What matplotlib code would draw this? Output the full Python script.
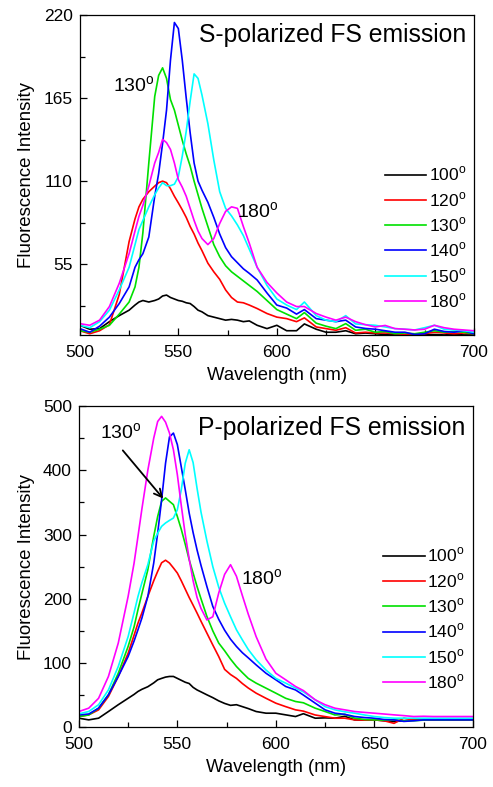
import numpy as np
import matplotlib
matplotlib.use('Agg')
import matplotlib.pyplot as plt
from matplotlib.ticker import MultipleLocator

plt.rcParams['font.family'] = ['Liberation Sans', 'DejaVu Sans']
plt.rcParams['mathtext.fontset'] = 'custom'
plt.rcParams['mathtext.rm'] = 'Liberation Sans'

# shared wavelength grid (nm)
wavelength = [500, 505, 510, 515, 520, 525, 528, 530, 532, 535,
              538, 540, 542, 544, 546, 548, 550, 552, 554, 556,
              558, 560, 562, 565, 568, 571, 574, 577, 580, 583,
              586, 590, 595, 600, 605, 610, 614, 620, 625, 630,
              635, 640, 645, 650, 655, 660, 665, 670, 675, 680,
              685, 690, 695, 700]

angles = ['100', '120', '130', '140', '150', '180']

# S-polarized emission
s_100 = [14.6, 12, 12.4, 17, 21, 24.6, 28, 30, 31, 30,
         31, 32, 34, 34.6, 33, 32, 31, 30.5, 29.5, 29,
         27, 24.6, 23.5, 21, 20, 19, 18, 18.5, 18, 17,
         17.5, 14.6, 12.4, 14.6, 11, 11, 15.5, 12, 10, 10,
         11, 9, 9.5, 9, 8.5, 8.5, 8.2, 8.5, 8.2, 8.5,
         8.2, 8.5, 8.2, 8.2]
s_120 = [11, 9, 11, 15, 35, 70, 85, 93, 98, 103,
         106.7, 109, 110, 109, 105, 100, 95.6, 91, 86, 80,
         75, 69, 64, 55.7, 50, 45, 38, 33, 30, 29.5,
         28, 25.7, 22.4, 20, 19, 17, 19.5, 13.5, 12.4, 11.3,
         13, 9.5, 10, 9.5, 9.5, 9, 8.5, 8.3, 9, 10,
         9.5, 9, 9.5, 9]
s_130 = [11, 10, 12, 14.6, 22, 30, 40, 53, 76, 122,
         166, 180, 185, 178, 164, 157, 147, 137, 128, 120,
         110, 101, 92, 80, 68, 60, 54, 50, 47, 44,
         41, 37, 31, 25, 22, 19, 23, 16, 14, 12.4,
         15.7, 11.3, 12, 10, 10.5, 9, 9.5, 9, 10, 11,
         10, 10.5, 10, 9]
s_140 = [12.4, 10, 14, 20, 29, 40, 53, 58, 62, 73,
         100, 115, 135, 157, 190, 215, 211, 190, 165, 142,
         122, 110, 104, 96, 86, 75, 66, 60, 56, 52,
         49, 44.6, 36, 28, 26, 22, 25, 19, 18, 17,
         18, 13.5, 12.5, 12, 11, 10, 10, 8.5, 9, 12,
         10.5, 10, 11, 9]
s_150 = [14.6, 13, 17, 24.6, 38, 53, 68, 78, 84, 93,
         101, 105.5, 109, 107, 107, 108, 113, 126.6, 143, 163,
         181, 178, 167, 148, 124, 103, 92, 87, 81, 74,
         65, 53, 41, 32, 28, 25, 30, 21, 18, 17,
         21, 15.5, 15, 14.6, 13.5, 12.4, 12, 11.5, 13, 14.6,
         12, 11.5, 11, 10]
s_180 = [15.7, 14.6, 18, 27, 42.4, 62, 77, 86.7, 94, 106.7,
         122, 129, 137.7, 135.5, 131, 122, 111, 106, 100, 92,
         84, 77, 72, 68, 72, 82, 90, 93, 92, 80,
         69, 53, 43, 36, 30, 27, 27, 22.4, 20, 18,
         20, 17, 15, 13.5, 14.5, 12.4, 12, 11.5, 12, 14.6,
         13, 12, 11.5, 11]

# P-polarized emission
p_100 = [14, 11.4, 14, 24.4, 35, 45, 51, 55.6, 59, 63,
         69, 73.8, 76, 78, 79, 79, 76, 73, 70, 68,
         62, 58, 55, 50.4, 46, 41, 37, 34, 35, 32,
         29, 24.4, 21.8, 21.8, 19.2, 16.6, 21, 14, 14.5, 14,
         17, 11.4, 11, 11.4, 10, 8.8, 10, 11, 11, 11,
         11, 11, 11, 11]
p_120 = [16.6, 19.2, 27, 47.8, 79, 115, 143, 162, 178, 203.6,
         228, 242.6, 256, 260, 255.6, 248, 240, 228, 215, 202,
         190, 177.7, 165, 146.5, 128, 110, 90, 82, 76, 68,
         61, 53, 45, 37.4, 32, 27, 25, 19, 16.5, 14,
         14, 11.4, 11, 11.4, 10, 6, 14, 11, 11, 11,
         11, 11, 11, 11]
p_130 = [16.6, 19, 29.6, 50.4, 84, 125.7, 156, 183, 208, 245,
         297, 328, 351.7, 357, 351.7, 346.5, 328, 308, 285, 260.8,
         240, 219, 200, 172.5, 150, 131, 119, 106, 94.5, 85,
         76, 68.6, 60.8, 53, 45, 40, 38, 29.6, 24.4, 19,
         20, 14, 12, 11.4, 11, 11.4, 10, 10, 11, 11.4,
         11, 11.4, 11.4, 11.4]
p_140 = [19.2, 20.5, 29.6, 50.4, 79, 110, 134, 151.7, 170, 203.6,
         255.6, 302, 354, 411, 452, 458, 440, 405, 370, 333.5,
         303, 276, 252, 219, 188, 168, 151, 137, 125.7, 116,
         108, 97, 84, 73.8, 63.4, 58, 50, 37.4, 27, 21.8,
         20, 16.6, 15, 14, 12, 11.4, 9, 10, 11.4, 11.4,
         11.4, 11.4, 11.4, 11.4]
p_150 = [20.8, 24.4, 35, 58, 94.5, 141, 178, 203.6, 225, 253,
         290, 302, 312.7, 318, 322, 325.7, 338.7, 370, 411, 432,
         412, 372, 335, 290, 250, 218, 193, 172, 151.7, 136,
         121, 105, 89, 76, 68.6, 60.8, 55, 42.6, 32, 27,
         24, 21.8, 19, 16.6, 15, 14, 14, 14, 14, 14,
         14, 14, 14, 14]
p_180 = [24.4, 29.6, 45, 79, 131, 203.6, 255, 297, 340, 400,
         450, 476, 484, 475, 458, 432, 393, 345, 300, 262,
         228, 202, 185, 167, 172, 209, 238, 253, 235, 205,
         176, 141, 106, 84, 73.8, 63.4, 57, 42.6, 35, 29.6,
         27, 24.4, 23, 21.8, 20.5, 19.2, 18, 16.6, 17, 16.6,
         16.6, 16.6, 16.6, 16.6]

colors = ['black', '#ff0000', '#00e000', '#0000ff', '#00ffff', '#ff00ff']
deg = '$^{\\rm o}$'


def style_axes(ax, ymin, ymax, ymajor):
    ax.set_xlim(500, 700)
    ax.set_ylim(ymin, ymax)
    ax.xaxis.set_major_locator(MultipleLocator(50))
    ax.xaxis.set_minor_locator(MultipleLocator(25))
    ax.yaxis.set_major_locator(MultipleLocator(ymajor))
    ax.yaxis.set_minor_locator(MultipleLocator(ymajor / 2))
    ax.tick_params(which='both', direction='in', top=False, right=False,
                   labelsize=12.5, width=0.9)
    ax.tick_params(which='major', length=5, pad=5)
    ax.tick_params(axis='x', which='major', pad=7)
    ax.tick_params(which='minor', length=3.5)
    for sp in ax.spines.values():
        sp.set_linewidth(0.9)
    ax.set_xlabel('Wavelength (nm)', fontsize=13.3, labelpad=5)
    ax.set_ylabel('Fluorescence Intensity', fontsize=13.4, labelpad=6)


fig = plt.figure(figsize=(4.93, 7.87), dpi=100)
ax1 = fig.add_axes([0.162, 0.574, 0.799, 0.407])
ax2 = fig.add_axes([0.160, 0.076, 0.799, 0.408])

wl = np.array(wavelength)
s_sets = [s_100, s_120, s_130, s_140, s_150, s_180]
p_sets = [p_100, p_120, p_130, p_140, p_150, p_180]

for vals, c, a in zip(s_sets, colors, angles):
    ax1.plot(wl, vals, color=c, lw=1.2, label=a + deg)
for vals, c, a in zip(p_sets, colors, angles):
    ax2.plot(wl, vals, color=c, lw=1.2, label=a + deg)

style_axes(ax1, 8, 220, 55)
style_axes(ax2, 0, 500, 100)

ax1.text(0.982, 0.9375, 'S-polarized FS emission', transform=ax1.transAxes,
         ha='right', va='center', fontsize=17.8)
ax2.text(0.982, 0.931, 'P-polarized FS emission', transform=ax2.transAxes,
         ha='right', va='center', fontsize=17.8)

ax1.text(516.7, 173, '130' + deg, fontsize=14, ha='left', va='center')
ax1.text(580, 90, '180' + deg, fontsize=14, ha='left', va='center')
ax2.text(510.7, 458, '130' + deg, fontsize=14, ha='left', va='center')
ax2.text(582.5, 232, '180' + deg, fontsize=14, ha='left', va='center')
ax2.annotate('', xy=(542.8, 356), xytext=(522.3, 431),
             arrowprops=dict(arrowstyle='->', color='black', lw=1.3,
                             mutation_scale=14, shrinkA=0, shrinkB=0))

for ax, anchor in [(ax1, (0.774, 0.305)), (ax2, (0.772, 0.338))]:
    ax.legend(loc='center left', bbox_to_anchor=anchor, frameon=False,
              fontsize=12.5, handlelength=2.4, handletextpad=0.15,
              labelspacing=0.38, borderpad=0, borderaxespad=0)

fig.savefig('out.png', dpi=100)
